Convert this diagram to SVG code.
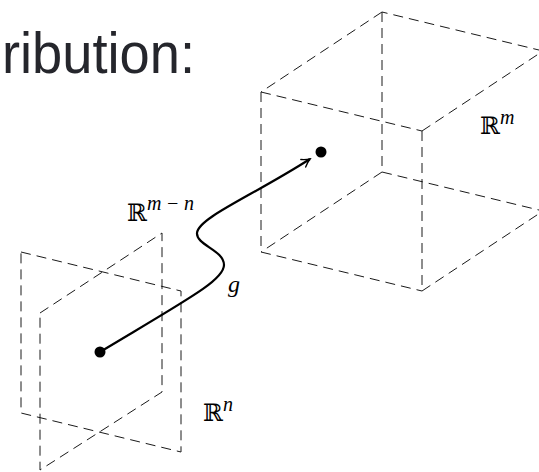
<svg xmlns="http://www.w3.org/2000/svg" width="539" height="472" viewBox="0 0 539 472">
<style>
.d{fill:none;stroke:#1a1a1a;stroke-width:1;stroke-dasharray:10 6}
.bb{font-family:"DejaVu Serif","DejaVu Sans",serif;font-size:24px;fill:#000}
.sup{font-family:"Liberation Serif",serif;font-style:italic;font-size:20px;fill:#000}
.title{font-family:"Liberation Sans",Arial,sans-serif;font-size:57px;fill:#25262c}
</style>
<defs>
<marker id="arr" viewBox="-10 -6 12 12" refX="0" refY="0" markerWidth="12" markerHeight="12" markerUnits="userSpaceOnUse" orient="auto">
<path d="M-8,-4.5 Q-3,-1 0,0 Q-3,1 -8,4.5" fill="none" stroke="#000" stroke-width="1.4" stroke-linecap="round"/>
</marker>
</defs>
<rect width="539" height="472" fill="#fff"/>
<text class="title" x="2" y="73" textLength="193" lengthAdjust="spacingAndGlyphs">ribution:</text>
<g id="cube-Rm">
<path class="d" d="M382,12 L261,92 M261,92 L422,131 M422,131 L543,51 M543,51 L382,12"/>
<path class="d" d="M382,12 L382,172 M261,92 L261,252 M422,131 L422,291"/>
<path class="d" d="M382,172 L261,252 M261,252 L422,291 M422,291 L543,211 M382,172 L543,211"/>
<text class="bb" x="480" y="134">ℝ<tspan class="sup" dy="-10" textLength="21">m</tspan></text>
</g>
<g id="plane-Rn">
<path class="d" d="M21,252 L181,291 L181,452 L21,413 Z"/>
<text class="bb" x="203" y="421">ℝ<tspan class="sup" dy="-10" textLength="13">n</tspan></text>
</g>
<g id="plane-Rmn">
<path class="d" d="M40,313 L162,233 L162,392 L40,470 Z"/>
<text class="bb" x="127" y="221">ℝ<tspan class="sup" dy="-11" textLength="47">m−n</tspan></text>
</g>
<g id="point-source">
<circle cx="100" cy="352" r="5.5" fill="#000"/>
</g>
<g id="point-target">
<circle cx="321" cy="152" r="5.5" fill="#000"/>
</g>
<g id="connectors">
<path d="M100,352 C190,298 224,280 224,265 C224,250 196,245 197,233 C198,218 252,196 310,159" fill="none" stroke="#000" stroke-width="2.2" marker-end="url(#arr)"/>
<text x="228" y="292" font-family="Liberation Serif,serif" font-style="italic" font-size="24" fill="#000">g</text>
</g>
</svg>
